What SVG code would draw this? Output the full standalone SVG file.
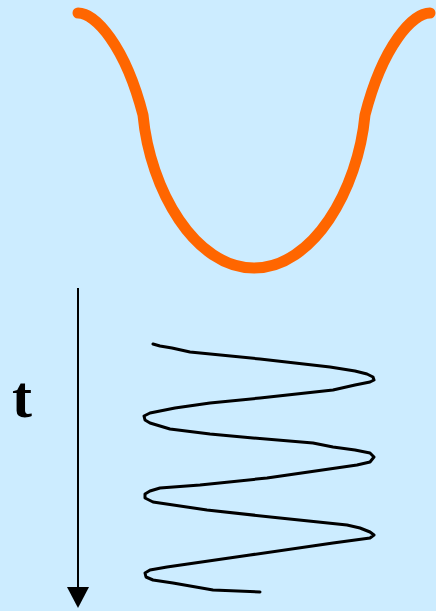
<svg xmlns="http://www.w3.org/2000/svg" width="436" height="611" viewBox="0 0 436 611">
<style>
.well{fill:none;stroke:#FF6600;stroke-width:11;stroke-linecap:round;stroke-linejoin:round}
.spring{fill:none;stroke:#000;stroke-width:3;stroke-linecap:round;stroke-linejoin:round}
.axis{stroke:#000;stroke-width:2}
.lbl{font-family:"Liberation Serif","Times New Roman",serif;font-weight:bold;font-size:60px;fill:#000}
</style>
<rect width="436" height="611" fill="#CCECFF"/>
<g id="potential">
<path class="well" d="M78,13 C95,13 125,45 143,115 C150,190 195,268 254,268 C313,268 358,190 365,115 C383,45 413,13 430,13"/>
</g>
<g id="connectors">
<line class="axis" x1="78" y1="288" x2="78" y2="590"/>
<polygon points="67,587 89,587 78,608" fill="#000"/>
</g>
<g id="label">
<text class="lbl" x="12" y="417">t</text>
</g>
<g id="wave">
<path class="spring" d="M153,344 L160,346 L172,348 L190,352 L260,359 L330,367 L355,371 L367,374 L373,377 L374,380 L370,382 L355,385 L333,390 L260,398 L210,403 L175,408 L150,413 L144,416 L145,420 L150,423 L170,429 L210,434 L253,438 L313,443 L333,447 L355,450 L370,453 L374,457 L370,462 L357,465 L267,478 L200,485 L160,488 L150,491 L145,494 L145,498 L153,502 L207,510 L280,518 L347,525 L360,528 L370,532 L374,535 L370,538 L333,543 L250,555 L167,567 L150,570 L145,573 L146,577 L153,580 L173,583 L213,590 L260,592"/>
</g>
</svg>
